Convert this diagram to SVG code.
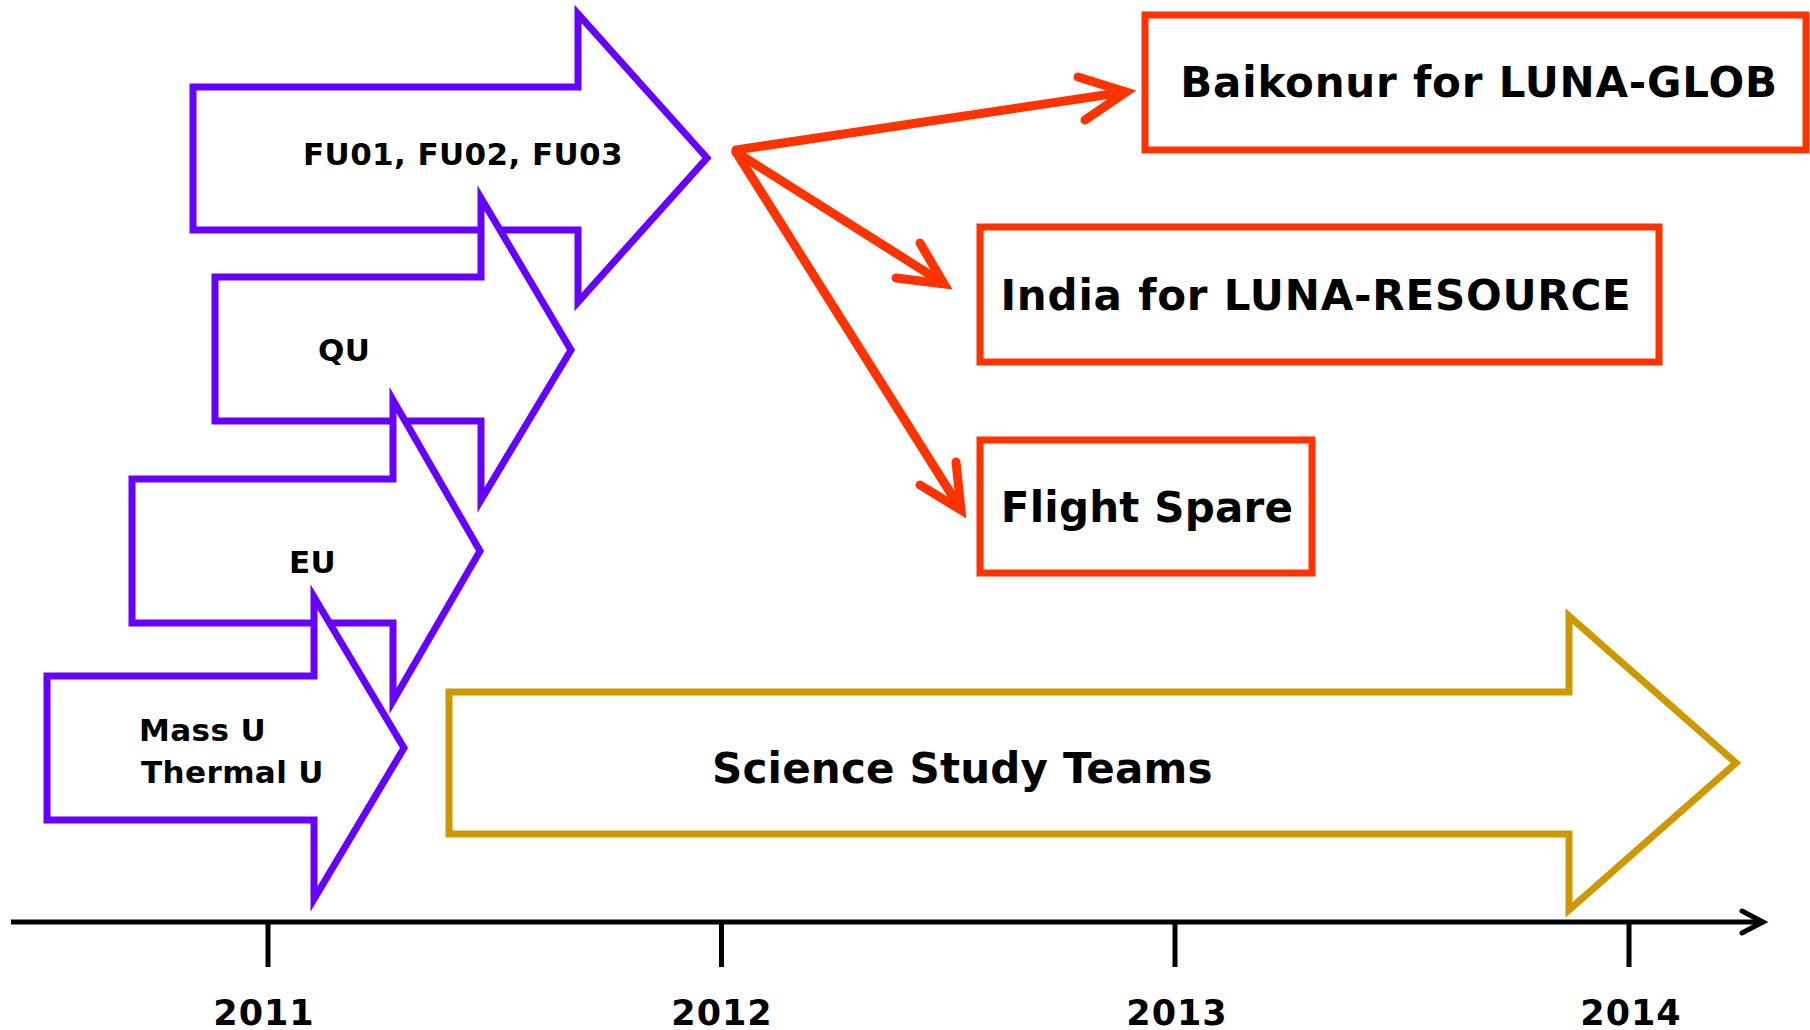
<svg xmlns="http://www.w3.org/2000/svg" width="1810" height="1030" viewBox="0 0 1810 1030">
<style>
.pu{fill:#fff;stroke:#6600FF;stroke-width:7;stroke-linejoin:miter}
.go{fill:#fff;stroke:#CC9900;stroke-width:7;stroke-linejoin:miter}
.rb{fill:#fff;stroke:#FF3300;stroke-width:7}
.rl{fill:none;stroke:#FF3300;stroke-width:9;stroke-linecap:round;stroke-linejoin:miter}
.ax{fill:none;stroke:#000;stroke-width:5}
.ah{fill:none;stroke:#000;stroke-width:5;stroke-linecap:round;stroke-linejoin:miter}
.tk{fill:none;stroke:#000;stroke-width:5}
text{font-family:"DejaVu Sans","Liberation Sans",sans-serif;font-weight:bold;fill:#000}
.big{font-size:42px;letter-spacing:0.8px}
.big2{font-size:42px;letter-spacing:0.2px}
.sm{font-size:31px;letter-spacing:0.4px}
.yr{font-size:35px;text-anchor:middle;letter-spacing:1px}
</style>
<g id="axis">
<line class="ax" x1="11" y1="922" x2="1762" y2="922"/>
<polyline class="ah" points="1742,911 1763,922 1742,933"/>
<line class="tk" x1="268" y1="922" x2="268" y2="967"/>
<line class="tk" x1="721.5" y1="922" x2="721.5" y2="967"/>
<line class="tk" x1="1175" y1="922" x2="1175" y2="967"/>
<line class="tk" x1="1629" y1="922" x2="1629" y2="967"/>
<text class="yr" x="264" y="1025">2011</text>
<text class="yr" x="722" y="1025">2012</text>
<text class="yr" x="1177" y="1025">2013</text>
<text class="yr" x="1631" y="1025">2014</text>
</g>
<g id="node-fu">
<path class="pu" d="M193,87 H578 V14 L707,158 L578,302 V230 H193 Z"/>
<text class="sm" x="463" y="165" text-anchor="middle">FU01, FU02, FU03</text>
</g>
<g id="node-qu">
<path class="pu" d="M215,277 H481 V198 L571,350 L481,500 V421 H215 Z"/>
<text class="sm" x="318" y="361">QU</text>
</g>
<g id="node-eu">
<path class="pu" d="M132,479 H393 V400 L480,551 L393,701 V623 H132 Z"/>
<text class="sm" x="289" y="573">EU</text>
</g>
<g id="node-mass">
<path class="pu" d="M47,676 H314 V597 L404,748 L314,899 V820 H47 Z"/>
<text class="sm" x="139" y="741">Mass U</text>
<text class="sm" x="141" y="783">Thermal U</text>
</g>
<g id="node-science">
<path class="go" d="M449,692 H1569 V616 L1736,763 L1569,910 V834 H449 Z"/>
<text class="big2" x="712" y="783">Science Study Teams</text>
</g>
<g id="node-baikonur">
<rect class="rb" x="1145" y="15" width="661" height="135"/>
<text class="big" x="1479" y="97" text-anchor="middle">Baikonur for LUNA-GLOB</text>
</g>
<g id="node-india">
<rect class="rb" x="980" y="227" width="679" height="135"/>
<text class="big" x="1316" y="309.5" text-anchor="middle">India for LUNA-RESOURCE</text>
</g>
<g id="node-flight">
<rect class="rb" x="980" y="440" width="332" height="133"/>
<text class="big2" x="1147" y="521.5" text-anchor="middle">Flight Spare</text>
</g>
<g id="connectors">
<line class="rl" x1="736" y1="150" x2="1125" y2="92" stroke-linecap="butt"/>
<polyline class="rl" points="1078,77 1126,92 1085,120"/>
<line class="rl" x1="736" y1="152" x2="943" y2="283" stroke-linecap="butt"/>
<polyline class="rl" points="920,243 944,284 896,278"/>
<line class="rl" x1="736" y1="152" x2="960" y2="508" stroke-linecap="butt"/>
<polyline class="rl" points="956,462 961,510 920,485"/>
</g>
</svg>
